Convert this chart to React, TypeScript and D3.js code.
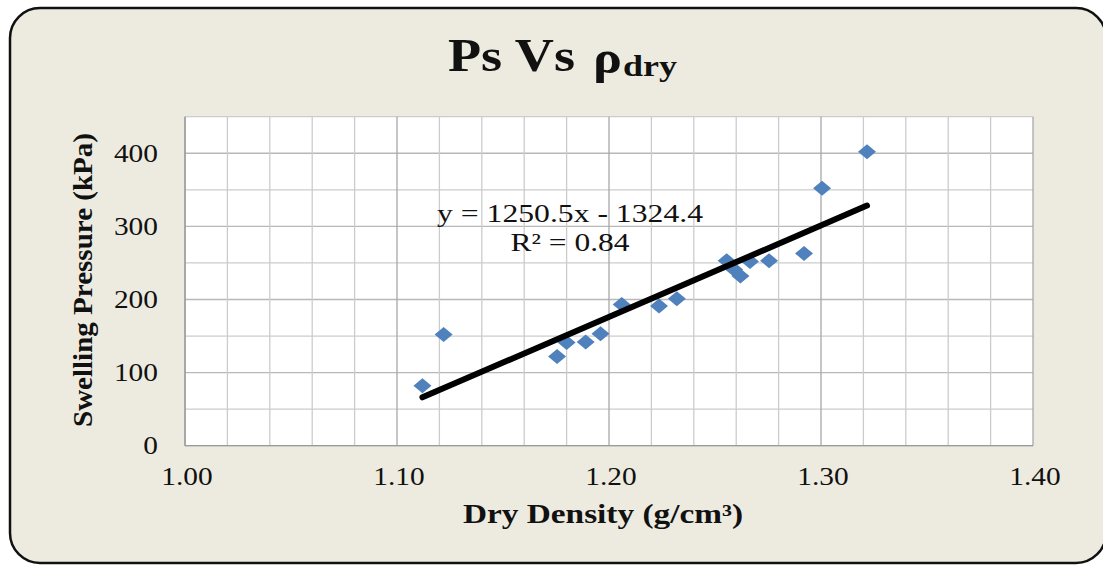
import React from "react";
import * as d3 from "d3";

const densities = [1.112, 1.122, 1.1755, 1.18, 1.189, 1.196, 1.206, 1.2236, 1.232, 1.2555, 1.259, 1.262, 1.2665, 1.2755, 1.292, 1.3005, 1.3217];
const pressures = [82, 152, 122, 141, 142, 153, 193, 191, 201, 253, 241, 232, 252, 253, 263, 352, 402];
const xTicks = [1.0, 1.1, 1.2, 1.3, 1.4];
const yTicks = [0, 100, 200, 300, 400];
const slope = 1250.5;
const intercept = -1324.4;
const equationLabel = "y = 1250.5x - 1324.4";
const r2Label = "R² = 0.84";

const W = 1103;
const H = 565;
const serif = "'Liberation Serif', 'Times New Roman', serif";
const SX = 1.13;

function SText({ x, y, anchor = "start", size, bold = false, children, fill = "#111" }: any) {
  return (
    <text
      transform={`translate(${x},${y}) scale(${SX},1)`}
      textAnchor={anchor}
      fontFamily={serif}
      fontSize={size}
      fontWeight={bold ? "bold" : "normal"}
      fill={fill}
    >
      {children}
    </text>
  );
}

export default function App() {
  const x = d3.scaleLinear().domain([1.0, 1.4]).range([185, 1033]);
  const y = d3.scaleLinear().domain([0, 450]).range([445.7, 116.7]);

  const xGrid = d3.range(0, 21).map((i) => 1.0 + i * 0.02);
  const yGrid = d3.range(0, 10).map((i) => i * 50);

  const xMin = d3.min(densities)!;
  const xMax = d3.max(densities)!;
  const trend = d3.line<number>()
    .x((d) => x(d))
    .y((d) => y(slope * d + intercept))([xMin, xMax]);

  const isMajorX = (v: number) => Math.abs(v * 10 - Math.round(v * 10)) < 1e-6;

  return (
    <svg width={W} height={H} style={{ position: "absolute", left: 0, top: 0 }}>
      <rect x={10} y={8} width={1096} height={555} rx={30} ry={30} fill="#EDEBE0" stroke="#111" strokeWidth={2.5} />
      <rect x={x(1.0)} y={y(450)} width={x(1.4) - x(1.0)} height={y(0) - y(450)} fill="#fff" />
      {yGrid.map((v) => (
        <line key={"yg" + v} x1={x(1.0)} x2={x(1.4)} y1={y(v)} y2={y(v)} stroke={v % 100 === 0 ? "#B8B8B8" : "#CCCCCC"} strokeWidth={1.3} />
      ))}
      {xGrid.map((v, i) => (
        <line key={"xg" + i} x1={x(v)} x2={x(v)} y1={y(0)} y2={y(450)} stroke={isMajorX(v) ? "#A8A8A8" : "#CCCCCC"} strokeWidth={1.3} />
      ))}
      <line x1={x(1.0)} x2={x(1.4)} y1={y(0)} y2={y(0)} stroke="#9A9A9A" strokeWidth={1.3} />
      <line x1={x(1.0)} x2={x(1.0)} y1={y(0)} y2={y(450)} stroke="#9A9A9A" strokeWidth={1.3} />

      {densities.map((d, i) => (
        <path
          key={"p" + i}
          transform={`translate(${x(d)},${y(pressures[i])})`}
          d="M0,-7.5L9,0L0,7.5L-9,0Z"
          fill="#4F81BD"
        />
      ))}

      <path d={trend || ""} stroke="#000" strokeWidth={6} strokeLinecap="round" fill="none" />

      <text x={570} y={222} textAnchor="middle" fontFamily={serif} fontSize={25} fill="#111" textLength={266} lengthAdjust="spacingAndGlyphs">
        {equationLabel}
      </text>
      <text x={570} y={251} textAnchor="middle" fontFamily={serif} fontSize={25} fill="#111" textLength={119} lengthAdjust="spacingAndGlyphs">
        {r2Label}
      </text>

      {yTicks.map((v) => (
        <SText key={"yt" + v} x={158} y={y(v) + 8.5} anchor="end" size={26}>
          {String(v)}
        </SText>
      ))}
      {xTicks.map((v) => (
        <SText key={"xt" + v} x={x(v) + 2} y={485} anchor="middle" size={26}>
          {v.toFixed(2)}
        </SText>
      ))}

      <text x={463} y={523} fontFamily={serif} fontSize={27} fontWeight="bold" fill="#111" textLength={280} lengthAdjust="spacingAndGlyphs">
        Dry Density (g/cm³)
      </text>
      <text
        transform={`translate(92,427) rotate(-90)`}
        fontFamily={serif}
        fontSize={28}
        fontWeight="bold"
        fill="#111"
        textLength={294}
        lengthAdjust="spacingAndGlyphs"
      >
        Swelling Pressure (kPa)
      </text>

      <text x={448} y={71} fontFamily={serif} fontSize={46} fontWeight="bold" fill="#111" textLength={127} lengthAdjust="spacingAndGlyphs">
        Ps Vs
      </text>
      <text x={593} y={73} fontFamily={serif} fontSize={47} fontWeight="bold" fill="#111" textLength={29} lengthAdjust="spacingAndGlyphs">
        ρ
      </text>
      <text x={623} y={76} fontFamily={serif} fontSize={29} fontWeight="bold" fill="#111" textLength={54} lengthAdjust="spacingAndGlyphs">
        dry
      </text>
    </svg>
  );
}
